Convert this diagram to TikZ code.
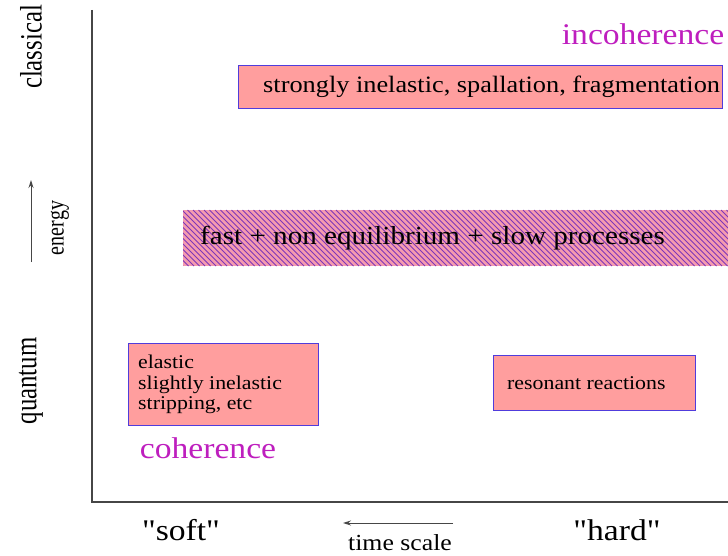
\documentclass[tikz,border=0pt]{standalone}
\usepackage{fontspec}
\setmainfont[FakeStretch=1.12, Ligatures=TeXOff]{Liberation Serif}
\newfontfamily\rotfont[FakeStretch=0.8]{Liberation Serif}
\usepackage{tikz}
\usetikzlibrary{positioning,arrows.meta}
\definecolor{c_box}{RGB}{255,158,158}
\definecolor{c_edge}{RGB}{80,60,220}
\definecolor{c_band}{RGB}{245,155,175}
\definecolor{c_stripe}{RGB}{125,55,185}
\definecolor{c_coh}{RGB}{190,30,190}
\definecolor{c_axis}{RGB}{70,70,70}
\tikzset{c-box/.style={rectangle, draw=c_edge, line width=0.9pt, fill=c_box, inner sep=0pt, anchor=north west},
c-band/.style={rectangle, fill=c_band, inner sep=0pt, anchor=north west},
c-stripe/.style={draw=c_stripe, line width=0.8pt},
c-text/.style={inner sep=0pt, anchor=west, align=left},
c-label/.style={inner sep=0pt, anchor=base},
c-coh/.style={c-label, text=c_coh, font=\fontsize{30}{30}\selectfont},
c-side/.style={inner sep=0pt, rotate=90, font=\rotfont\fontsize{31}{31}\selectfont},
arrow/.style={line width=1pt, draw=c_axis, -{Stealth[length=8pt,width=5pt]}}}

\begin{document}
\begin{tikzpicture}[x=1pt, y=-1pt]
\useasboundingbox (0,0) rectangle (728,556);

\coordinate (top) at (92,10);
\coordinate (org) at (92,502);
\coordinate (end) at (728,502);
\draw [c_axis, line width=1.2pt] (top) -- (org) -- (end);

\node (strong) [c-box, minimum width=484pt, minimum height=43pt] at (238,65) {};
\node (strongtxt) [c-text, font=\fontsize{23.5}{23.5}\selectfont] at ([xshift=25pt]strong.west) {strongly inelastic, spallation, fragmentation};

\node (band) [c-band, minimum width=545pt, minimum height=56pt] at (183,210) {};
\begin{scope}
\clip (band.north west) rectangle (band.south east);
\foreach \s in {127,132.5,...,730}
  \draw [c-stripe] (\s,210) -- (\s+56,266);
\end{scope}
\node (bandtxt) [c-text, font=\fontsize{26}{26}\selectfont] at ([xshift=17pt]band.west) {fast + non equilibrium + slow processes};

\node (elastic) [c-box, minimum width=190pt, minimum height=82pt] at (128,343) {};
\node (elastictxt) [c-text, font=\fontsize{19.5}{20.5}\selectfont] at ([xshift=10pt]elastic.west) {elastic\\slightly inelastic\\stripping, etc};

\node (reson) [c-box, minimum width=202pt, minimum height=55pt] at (493,355) {};
\node (resontxt) [c-text, font=\fontsize{19.5}{19.5}\selectfont] at ([xshift=14pt]reson.west) {resonant reactions};

\node (incoh) [c-coh] at (643,45) {incoherence};
\node (coh) [c-coh] at (208,458) {coherence};

\node (classical) [c-side] at (31,47) {classical};
\node (quantum) [c-side] at (31,381) {quantum};
\node (energy) [c-side, font=\rotfont\fontsize{25}{25}\selectfont] at (60,228) {energy};
\coordinate (elow) at (31,262);
\coordinate (ehigh) at (31,180);
\draw [arrow] (elow) -- (ehigh);

\node (soft) [c-label, font=\fontsize{30}{30}\selectfont] at (181,540) {"soft"};
\node (hard) [c-label, font=\fontsize{30}{30}\selectfont] at (617,540) {"hard"};
\node (tscale) [c-label, font=\fontsize{23}{23}\selectfont] at (400,550) {time scale};
\coordinate (tslow) at (453,523);
\coordinate (tfast) at (343,523);
\draw [arrow] (tslow) -- (tfast);
\end{tikzpicture}
\end{document}
